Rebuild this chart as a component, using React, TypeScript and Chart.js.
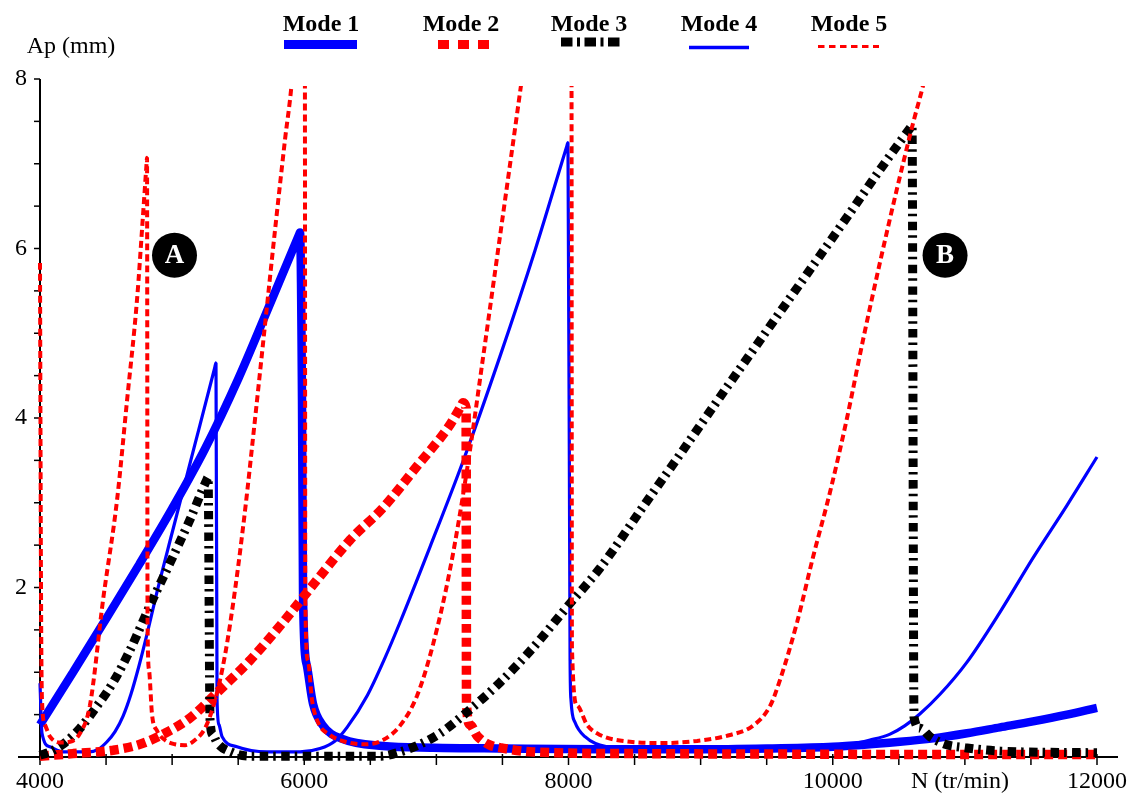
import React, { useEffect, useRef } from 'react';
import { Chart, registerables } from 'chart.js';

Chart.register(...registerables);

// ---- Data (N in tr/min, Ap in mm) ----
const mode1N = [4000, 4250, 4500, 4750, 5000, 5250, 5500, 5750, 5960, 5968, 5983, 5991, 6021, 6066, 6142, 6293, 6596, 6975, 7500, 8239, 8996, 9500, 10002, 10509, 10760, 11016, 11266, 11516, 11773, 12000];
const mode1Ap = [0.38, 1.0, 1.63, 2.27, 2.93, 3.64, 4.46, 5.38, 6.16, 6.19, 4.21, 1.85, 1.07, 0.63, 0.37, 0.21, 0.13, 0.11, 0.1, 0.09, 0.09, 0.1, 0.12, 0.18, 0.22, 0.28, 0.35, 0.42, 0.5, 0.58];

const mode2N = [4000, 4250, 4553, 4757, 4946, 5135, 5340, 5589, 5839, 6097, 6346, 6596, 6853, 7103, 7190, 7202, 7225, 7228, 7255, 7308, 7406, 7482, 7732, 8500, 9500, 10500, 12000];
const mode2Ap = [0.01, 0.04, 0.08, 0.15, 0.28, 0.46, 0.76, 1.14, 1.59, 2.09, 2.56, 2.94, 3.43, 3.92, 4.15, 4.18, 4.12, 0.63, 0.38, 0.25, 0.14, 0.11, 0.06, 0.04, 0.035, 0.03, 0.03];

const mode3N = [4000, 4076, 4174, 4303, 4431, 4553, 4681, 4833, 4984, 5135, 5262, 5272, 5287, 5310, 5340, 5461, 5589, 6000, 6346, 6574, 6725, 6876, 7028, 7232, 7482, 7732, 7989, 8239, 8594, 8844, 9094, 9351, 9601, 9851, 10108, 10358, 10590, 10600, 10615, 10661, 10736, 10850, 11001, 11266, 12000];
const mode3Ap = [0.02, 0.06, 0.15, 0.34, 0.6, 0.88, 1.26, 1.79, 2.29, 2.8, 3.27, 3.3, 0.44, 0.26, 0.17, 0.05, 0.01, 0.01, 0.01, 0.01, 0.06, 0.15, 0.28, 0.53, 0.88, 1.29, 1.77, 2.23, 3.02, 3.57, 4.13, 4.7, 5.25, 5.8, 6.37, 6.93, 7.43, 7.45, 0.47, 0.34, 0.24, 0.15, 0.11, 0.07, 0.05];

const mode4N = [4000, 4015, 4076, 4174, 4370, 4440, 4507, 4568, 4628, 4690, 4750, 4810, 4886, 4999, 5113, 5211, 5322, 5332, 5340, 5355, 5378, 5491, 5718, 5968, 6119, 6233, 6324, 6475, 6611, 6725, 6952, 7202, 7482, 7747, 7986, 7996, 8012, 8019, 8049, 8125, 8292, 8617, 8996, 9904, 10131, 10282, 10434, 10547, 10661, 10812, 11016, 11266, 11516, 11773, 12000];
const mode4Ap = [0.87, 0.28, 0.12, 0.06, 0.06, 0.09, 0.18, 0.3, 0.48, 0.75, 1.08, 1.45, 1.95, 2.64, 3.33, 3.92, 4.59, 4.65, 0.67, 0.38, 0.24, 0.12, 0.06, 0.06, 0.1, 0.19, 0.35, 0.72, 1.17, 1.59, 2.48, 3.49, 4.73, 5.98, 7.2, 7.25, 1.14, 0.67, 0.41, 0.24, 0.12, 0.08, 0.08, 0.12, 0.15, 0.2, 0.27, 0.37, 0.51, 0.74, 1.12, 1.71, 2.35, 2.97, 3.54];

const mode5N = [4000, 4008, 4015, 4038, 4076, 4151, 4227, 4303, 4378, 4477, 4583, 4659, 4734, 4780, 4806, 4810, 4814, 4825, 4848, 4886, 4946, 5022, 5098, 5173, 5249, 5325, 5400, 5476, 5552, 5627, 5703, 5779, 5854, 5907, 5950, 6004, 6008, 6028, 6059, 6104, 6195, 6309, 6460, 6596, 6725, 6853, 6975, 7103, 7232, 7353, 7482, 7610, 7641, 7785, 7974, 8022, 8026, 8065, 8140, 8239, 8466, 8716, 8973, 9223, 9397, 9525, 9601, 9730, 9851, 9980, 10108, 10229, 10358, 10487, 10608, 10683, 10780];
const mode5Ap = [5.83, 1.85, 0.67, 0.38, 0.24, 0.17, 0.18, 0.28, 0.61, 1.85, 3.03, 4.21, 5.39, 6.4, 6.99, 7.07, 1.6, 1.03, 0.5, 0.31, 0.2, 0.15, 0.14, 0.2, 0.34, 0.67, 1.2, 1.97, 2.91, 3.98, 5.1, 6.22, 7.28, 7.99, 9.0, 9.3, 1.85, 1.14, 0.67, 0.41, 0.26, 0.18, 0.15, 0.2, 0.37, 0.72, 1.33, 2.21, 3.39, 4.71, 6.15, 7.58, 7.93, 9.5, 9.5, 9.2, 1.3, 0.61, 0.38, 0.26, 0.18, 0.165, 0.19, 0.26, 0.37, 0.6, 0.91, 1.59, 2.36, 3.13, 4.0, 4.92, 5.84, 6.71, 7.48, 7.92, 8.6];

const xTickLabels = [4000, 6000, 8000, 10000, 12000];
const yTickLabels = [2, 4, 6, 8];
const legendLabels = ['Mode 1', 'Mode 2', 'Mode 3', 'Mode 4', 'Mode 5'];
const markerLabels = ['A', 'B'];
const markerN = [5018, 10850];
const markerAp = [5.92, 5.92];

const FONT = '"Liberation Serif", "Times New Roman", serif';

function toPoints(n: number[], ap: number[]) {
  return n.map((v, i) => ({ x: v, y: ap[i] }));
}

// legend sample geometry (canvas pixels)
const legendStyle = [
  { cx: 321, x0: 284, x1: 357, y: 44.5, w: 9, dash: [] as number[], color: '#0000ff' },
  { cx: 461, x0: 438, x1: 489, y: 44.5, w: 9, dash: [11, 9], color: '#ff0000' },
  { cx: 589, x0: 561, x1: 621, y: 42, w: 9, dash: [11.5, 4.5, 3, 4.5], color: '#000000' },
  { cx: 719, x0: 689, x1: 749, y: 47.5, w: 3.5, dash: [] as number[], color: '#0000ff' },
  { cx: 849, x0: 818, x1: 879, y: 46.5, w: 3, dash: [6.5, 4.5], color: '#ff0000' },
];

const decorPlugin = {
  id: 'decor',
  beforeDatasetsDraw(chart: any) {
    const { ctx } = chart;
    const xs = chart.scales.x;
    const ys = chart.scales.y;
    const x0 = xs.getPixelForValue(4000);
    const x1 = xs.getPixelForValue(12000);
    const yb = ys.getPixelForValue(0);
    const yt = ys.getPixelForValue(8);
    ctx.save();
    ctx.strokeStyle = '#000';
    ctx.lineWidth = 2;
    ctx.beginPath();
    ctx.moveTo(x0 - 22, yb);
    ctx.lineTo(x1 + 21, yb);
    ctx.stroke();
    ctx.beginPath();
    ctx.moveTo(x0, yt);
    ctx.lineTo(x0, yb + 3);
    ctx.stroke();
    ctx.lineWidth = 1.5;
    xs.ticks.forEach((t: any) => {
      const px = xs.getPixelForValue(t.value);
      ctx.beginPath();
      ctx.moveTo(px, yb - 3);
      ctx.lineTo(px, yb + 8);
      ctx.stroke();
    });
    ys.ticks.forEach((t: any) => {
      if (t.value === 0) return;
      const py = ys.getPixelForValue(t.value);
      ctx.beginPath();
      ctx.moveTo(x0 - 6, py);
      ctx.lineTo(x0, py);
      ctx.stroke();
    });
    ctx.restore();
  },
  afterDraw(chart: any) {
    const { ctx } = chart;
    const xs = chart.scales.x;
    const ys = chart.scales.y;
    ctx.save();
    // axis titles
    ctx.fillStyle = '#000';
    ctx.font = `24px ${FONT}`;
    ctx.textAlign = 'center';
    ctx.textBaseline = 'middle';
    ctx.fillText('Ap (mm)', 71, 47);
    ctx.fillText('N (tr/min)', 960, 782);
    // legend
    ctx.font = `bold 24px ${FONT}`;
    ctx.textBaseline = 'alphabetic';
    legendLabels.forEach((lab, i) => {
      const s = legendStyle[i];
      ctx.fillStyle = '#000';
      ctx.fillText(lab, s.cx, 31);
      ctx.strokeStyle = s.color;
      ctx.lineWidth = s.w;
      ctx.setLineDash(s.dash);
      ctx.lineCap = 'butt';
      ctx.beginPath();
      ctx.moveTo(s.x0, s.y);
      ctx.lineTo(s.x1, s.y);
      ctx.stroke();
    });
    ctx.setLineDash([]);
    // markers A / B
    markerLabels.forEach((lab, i) => {
      const px = xs.getPixelForValue(markerN[i]);
      const py = ys.getPixelForValue(markerAp[i]);
      ctx.fillStyle = '#000';
      ctx.beginPath();
      ctx.arc(px, py, 22.5, 0, Math.PI * 2);
      ctx.fill();
      ctx.fillStyle = '#fff';
      ctx.font = `bold 27px ${FONT}`;
      ctx.textAlign = 'center';
      ctx.textBaseline = 'middle';
      ctx.fillText(lab, px, py + 1);
    });
    ctx.restore();
  },
};

export default function App() {
  const canvasRef = useRef<HTMLCanvasElement | null>(null);

  useEffect(() => {
    if (!canvasRef.current) return;
    const common = {
      pointRadius: 0,
      pointHoverRadius: 0,
      cubicInterpolationMode: 'monotone' as const,
      fill: false,
      borderCapStyle: 'butt' as const,
      borderJoinStyle: 'bevel' as const,
      clip: { left: 6, right: 6, top: -7, bottom: 6 },
    };
    const chart = new Chart(canvasRef.current, {
      type: 'line',
      data: {
        datasets: [
          { ...common, label: legendLabels[0], data: toPoints(mode1N, mode1Ap), borderColor: '#0000ff', borderWidth: 8.5, order: 5 },
          { ...common, label: legendLabels[1], data: toPoints(mode2N, mode2Ap), borderColor: '#ff0000', borderWidth: 9.5, borderDash: [9, 5], order: 3 },
          { ...common, label: legendLabels[2], data: toPoints(mode3N, mode3Ap), borderColor: '#000000', borderWidth: 9, borderDash: [8.5, 5, 2.5, 5.5], order: 2 },
          { ...common, label: legendLabels[3], data: toPoints(mode4N, mode4Ap), borderColor: '#0000ff', borderWidth: 3.2, order: 4 },
          { ...common, label: legendLabels[4], data: toPoints(mode5N, mode5Ap), borderColor: '#ff0000', borderWidth: 4, borderDash: [7, 4], order: 1 },
        ] as any,
      },
      options: {
        responsive: false,
        animation: false,
        devicePixelRatio: 1,
        events: [],
        layout: { padding: { left: 0, right: 34, top: 79, bottom: 0 } },
        plugins: { legend: { display: false }, tooltip: { enabled: false } },
        scales: {
          x: {
            type: 'linear',
            min: 4000,
            max: 12000,
            grid: { display: false, drawTicks: false },
            border: { display: false },
            afterFit: (s: any) => { s.height = 38; s.paddingLeft = 0; s.paddingRight = 0; },
            ticks: {
              stepSize: 500,
              autoSkip: false,
              maxRotation: 0,
              padding: 10,
              color: '#000',
              font: { family: FONT, size: 24 },
              callback: (v: any) => (xTickLabels.includes(Number(v)) ? String(v) : ''),
            },
          },
          y: {
            type: 'linear',
            min: 0,
            max: 8,
            grid: { display: false, drawTicks: false },
            border: { display: false },
            afterFit: (s: any) => { s.width = 40; },
            ticks: {
              stepSize: 0.5,
              autoSkip: false,
              padding: 13,
              color: '#000',
              font: { family: FONT, size: 24 },
              callback: (v: any) => (yTickLabels.includes(Number(v)) ? String(v) : ''),
            },
          },
        },
      } as any,
      plugins: [decorPlugin],
    });
    return () => chart.destroy();
  }, []);

  return (
    <div style={{ position: 'fixed', left: 0, top: 0, width: 1131, height: 795, background: '#fff' }}>
      <canvas ref={canvasRef} width={1131} height={795} />
    </div>
  );
}
